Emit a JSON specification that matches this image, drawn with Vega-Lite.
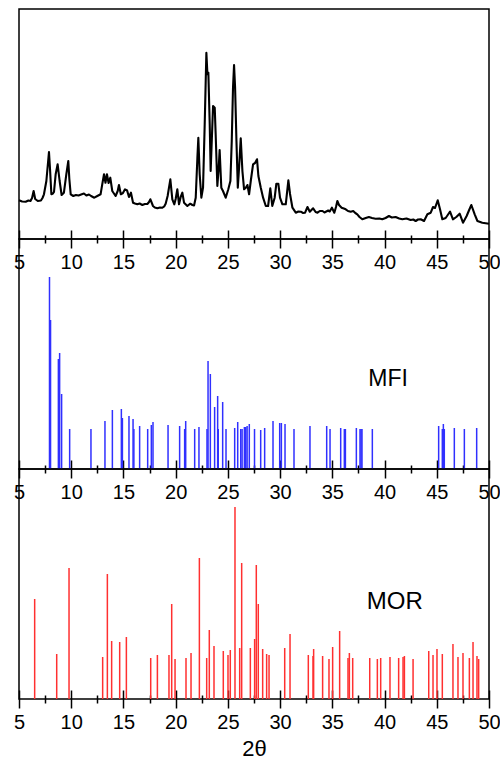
{
  "$schema": "https://vega.github.io/schema/vega-lite/v6.json",
  "padding": {"top": 8, "left": 12, "right": 0, "bottom": 0},
  "bounds": "flush",
  "spacing": 0,
  "datasets": {
    "xrd": [
      {"t":5.0,"i":38.7},{"t":5.3,"i":37.5},{"t":5.64,"i":37.3},{"t":5.9,"i":38.5},{"t":6.1,"i":38.0},{"t":6.25,"i":41},{"t":6.4,"i":48},{"t":6.55,"i":40},{"t":6.8,"i":38},{"t":7.1,"i":38.5},{"t":7.25,"i":41},{"t":7.39,"i":44.7},{"t":7.62,"i":58},{"t":7.87,"i":87},{"t":7.97,"i":70},{"t":8.1,"i":44.7},{"t":8.25,"i":45.5},{"t":8.35,"i":47},{"t":8.51,"i":64.7},{"t":8.7,"i":74.7},{"t":8.89,"i":58},{"t":9.08,"i":44},{"t":9.3,"i":46.3},{"t":9.53,"i":64.7},{"t":9.72,"i":78},{"t":9.82,"i":60},{"t":9.95,"i":44.7},{"t":10.2,"i":43},{"t":10.45,"i":44},{"t":10.7,"i":43.5},{"t":10.95,"i":44.5},{"t":11.22,"i":45.5},{"t":11.45,"i":43.5},{"t":11.7,"i":44.5},{"t":11.9,"i":43},{"t":12.21,"i":41.3},{"t":12.5,"i":43},{"t":12.81,"i":44.7},{"t":12.97,"i":54.7},{"t":13.14,"i":64.7},{"t":13.28,"i":56.3},{"t":13.42,"i":64.7},{"t":13.58,"i":56},{"t":13.74,"i":61.3},{"t":13.93,"i":48},{"t":14.25,"i":43},{"t":14.45,"i":48},{"t":14.57,"i":54},{"t":14.75,"i":44.7},{"t":14.95,"i":46},{"t":15.15,"i":49.7},{"t":15.35,"i":48.5},{"t":15.53,"i":42},{"t":15.72,"i":46.3},{"t":15.92,"i":36.3},{"t":16.1,"i":35.5},{"t":16.33,"i":34.7},{"t":16.55,"i":35.5},{"t":16.81,"i":34},{"t":17.05,"i":35},{"t":17.29,"i":35},{"t":17.45,"i":37},{"t":17.58,"i":39.7},{"t":17.83,"i":33},{"t":18.0,"i":31.5},{"t":18.25,"i":30.7},{"t":18.5,"i":31.5},{"t":18.73,"i":31.3},{"t":18.9,"i":32.5},{"t":19.04,"i":35.3},{"t":19.23,"i":43},{"t":19.49,"i":59.7},{"t":19.68,"i":39.7},{"t":19.87,"i":34.7},{"t":20.0,"i":40},{"t":20.16,"i":49.7},{"t":20.32,"i":34.7},{"t":20.48,"i":42},{"t":20.64,"i":46.3},{"t":20.8,"i":36.3},{"t":21.12,"i":33},{"t":21.4,"i":35.3},{"t":21.6,"i":34},{"t":21.76,"i":33.5},{"t":21.92,"i":41.3},{"t":22.08,"i":81.3},{"t":22.17,"i":101.3},{"t":22.3,"i":64.7},{"t":22.46,"i":41.3},{"t":22.62,"i":51.3},{"t":22.78,"i":114.7},{"t":22.94,"i":186.3},{"t":23.04,"i":164.7},{"t":23.13,"i":166.3},{"t":23.26,"i":114.7},{"t":23.35,"i":68},{"t":23.48,"i":104.7},{"t":23.58,"i":133},{"t":23.74,"i":131.3},{"t":23.83,"i":104.7},{"t":23.99,"i":53},{"t":24.12,"i":71},{"t":24.21,"i":89},{"t":24.37,"i":51.3},{"t":24.53,"i":48},{"t":24.79,"i":41.3},{"t":25.04,"i":49.7},{"t":25.24,"i":58},{"t":25.37,"i":98},{"t":25.49,"i":151.3},{"t":25.59,"i":174},{"t":25.69,"i":151.3},{"t":25.82,"i":98},{"t":25.95,"i":51.3},{"t":26.07,"i":71.3},{"t":26.23,"i":100.7},{"t":26.39,"i":68},{"t":26.55,"i":49.7},{"t":26.7,"i":51},{"t":26.87,"i":54},{"t":27.03,"i":44.7},{"t":27.19,"i":58},{"t":27.41,"i":74.7},{"t":27.6,"i":76},{"t":27.79,"i":79.7},{"t":27.92,"i":63},{"t":28.15,"i":51.3},{"t":28.37,"i":41.3},{"t":28.63,"i":33},{"t":28.85,"i":33},{"t":29.06,"i":50.7},{"t":29.25,"i":33},{"t":29.48,"i":41.3},{"t":29.64,"i":55.3},{"t":29.83,"i":55.3},{"t":29.99,"i":41.3},{"t":30.22,"i":34.7},{"t":30.54,"i":34.7},{"t":30.79,"i":58.7},{"t":30.95,"i":45},{"t":31.18,"i":31.3},{"t":31.5,"i":26.3},{"t":31.75,"i":27.5},{"t":31.98,"i":27.3},{"t":32.2,"i":26},{"t":32.39,"i":26.3},{"t":32.62,"i":32},{"t":32.84,"i":27.3},{"t":33.0,"i":29},{"t":33.16,"i":30.7},{"t":33.4,"i":27},{"t":33.58,"i":26.3},{"t":33.8,"i":28},{"t":34.06,"i":28},{"t":34.25,"i":26.5},{"t":34.38,"i":27.3},{"t":34.6,"i":28.5},{"t":34.75,"i":27.5},{"t":34.96,"i":31.3},{"t":35.19,"i":26.3},{"t":35.35,"i":32},{"t":35.48,"i":38},{"t":35.64,"i":34},{"t":35.89,"i":31.3},{"t":36.1,"i":30.5},{"t":36.28,"i":29.7},{"t":36.5,"i":28},{"t":36.76,"i":27.3},{"t":37.0,"i":28},{"t":37.2,"i":26},{"t":37.39,"i":24.7},{"t":37.6,"i":22},{"t":37.87,"i":19.7},{"t":38.2,"i":21},{"t":38.5,"i":22},{"t":38.8,"i":21},{"t":39.14,"i":20.3},{"t":39.5,"i":20.5},{"t":39.78,"i":19.7},{"t":40.1,"i":21},{"t":40.42,"i":23},{"t":40.7,"i":21.5},{"t":41.06,"i":22},{"t":41.4,"i":20.5},{"t":41.7,"i":19.7},{"t":42.1,"i":20.5},{"t":42.5,"i":19},{"t":42.75,"i":19.5},{"t":42.98,"i":18},{"t":43.2,"i":19.5},{"t":43.46,"i":19.7},{"t":43.78,"i":18},{"t":44.1,"i":24.7},{"t":44.42,"i":26.3},{"t":44.64,"i":32},{"t":44.83,"i":31},{"t":45.09,"i":38.7},{"t":45.31,"i":29.7},{"t":45.53,"i":19.7},{"t":45.85,"i":21},{"t":46.05,"i":24},{"t":46.27,"i":27.3},{"t":46.55,"i":19.7},{"t":46.87,"i":22},{"t":47.19,"i":25.3},{"t":47.51,"i":16.3},{"t":47.86,"i":23},{"t":48.1,"i":29},{"t":48.31,"i":34},{"t":48.63,"i":24.7},{"t":48.89,"i":18},{"t":49.36,"i":16.3},{"t":50.0,"i":15.3}
    ],
    "mfi": [
      {"t":7.92,"i":192},{"t":8.02,"i":149},{"t":8.77,"i":110},{"t":8.89,"i":116},{"t":9.08,"i":75},{"t":9.85,"i":40},{"t":11.89,"i":40},{"t":13.23,"i":48},{"t":13.94,"i":59},{"t":14.8,"i":60},{"t":14.9,"i":51},{"t":15.53,"i":53},{"t":15.92,"i":50},{"t":16.0,"i":40},{"t":16.55,"i":43},{"t":17.32,"i":40},{"t":17.67,"i":44},{"t":17.83,"i":47},{"t":19.27,"i":44},{"t":20.38,"i":43},{"t":20.86,"i":40},{"t":20.96,"i":48},{"t":21.82,"i":40},{"t":22.23,"i":42},{"t":23.0,"i":40},{"t":23.1,"i":108},{"t":23.32,"i":95},{"t":23.73,"i":62},{"t":24.02,"i":73},{"t":24.08,"i":40},{"t":24.5,"i":67},{"t":24.82,"i":40},{"t":25.65,"i":41},{"t":25.94,"i":47},{"t":26.23,"i":40},{"t":26.36,"i":40},{"t":26.58,"i":42},{"t":26.71,"i":42},{"t":26.84,"i":43},{"t":27.05,"i":45},{"t":27.55,"i":40},{"t":28.14,"i":39},{"t":28.52,"i":41},{"t":29.32,"i":48},{"t":29.96,"i":46},{"t":30.12,"i":46},{"t":30.47,"i":45},{"t":31.33,"i":40},{"t":32.86,"i":43},{"t":34.46,"i":43},{"t":34.78,"i":40},{"t":35.8,"i":41},{"t":36.15,"i":40},{"t":36.25,"i":40},{"t":37.3,"i":41},{"t":37.65,"i":40},{"t":37.75,"i":40},{"t":37.84,"i":40},{"t":38.83,"i":40},{"t":45.18,"i":43},{"t":45.53,"i":40},{"t":45.63,"i":45},{"t":45.72,"i":40},{"t":46.68,"i":41},{"t":47.64,"i":40},{"t":48.82,"i":41}
    ],
    "mor": [
      {"t":6.5,"i":100},{"t":8.61,"i":45},{"t":9.79,"i":131},{"t":13.01,"i":42},{"t":13.46,"i":125},{"t":13.87,"i":58},{"t":14.64,"i":57},{"t":15.28,"i":62},{"t":17.61,"i":41},{"t":18.25,"i":44},{"t":19.36,"i":44},{"t":19.62,"i":95},{"t":19.94,"i":40},{"t":20.99,"i":41},{"t":21.47,"i":46},{"t":22.27,"i":141},{"t":22.97,"i":41},{"t":23.22,"i":69},{"t":23.67,"i":53},{"t":24.56,"i":48},{"t":25.01,"i":44},{"t":25.23,"i":49},{"t":25.68,"i":192},{"t":26.13,"i":51},{"t":26.32,"i":136},{"t":27.15,"i":51},{"t":27.56,"i":60},{"t":27.72,"i":134},{"t":27.91,"i":95},{"t":28.33,"i":50},{"t":28.71,"i":45},{"t":28.94,"i":44},{"t":30.44,"i":51},{"t":30.95,"i":65},{"t":32.7,"i":44},{"t":33.15,"i":43},{"t":33.21,"i":50},{"t":34.07,"i":43},{"t":34.68,"i":40},{"t":35.03,"i":52},{"t":35.7,"i":68},{"t":36.5,"i":41},{"t":36.63,"i":46},{"t":36.95,"i":41},{"t":38.58,"i":41},{"t":39.31,"i":40},{"t":39.63,"i":41},{"t":40.52,"i":42},{"t":41.35,"i":41},{"t":41.77,"i":42},{"t":41.9,"i":43},{"t":42.73,"i":40},{"t":44.23,"i":48},{"t":44.64,"i":44},{"t":45.02,"i":50},{"t":45.53,"i":45},{"t":46.55,"i":55},{"t":47.03,"i":42},{"t":47.51,"i":46},{"t":48.12,"i":41},{"t":48.47,"i":57},{"t":48.85,"i":43},{"t":49.01,"i":40}
    ]
  },
  "vconcat": [
    {
      "width": 470, "height": 230,
      "layer": [
        {
          "data": {"name": "xrd"},
          "mark": {"type": "line", "color": "black", "strokeWidth": 2.1, "strokeJoin": "round"},
          "encoding": {
            "x": {"field": "t", "type": "quantitative", "scale": {"domain": [5, 50], "nice": false, "zero": false},
                  "axis": {"orient": "bottom", "values": [5,10,15,20,25,30,35,40,45,50], "offset": -9, "tickSize": 18, "labelPadding": 4, "title": null}},
            "y": {"field": "i", "type": "quantitative", "scale": {"domain": [0, 230], "nice": false}, "axis": null}
          }
        },
        {
          "data": {"name": "xrd"},
          "mark": {"type": "line", "strokeOpacity": 0},
          "encoding": {
            "x": {"field": "t", "type": "quantitative", "scale": {"domain": [5, 50], "nice": false, "zero": false},
                  "axis": {"orient": "bottom", "values": [7.5,12.5,17.5,22.5,27.5,32.5,37.5,42.5,47.5], "offset": -4, "tickSize": 8, "labels": false, "title": null}},
            "y": {"field": "i", "type": "quantitative", "scale": {"domain": [0, 230], "nice": false}, "axis": null}
          }
        }
      ],
      "resolve": {"axis": {"x": "independent"}}
    },
    {
      "width": 470, "height": 230,
      "layer": [
        {
          "data": {"name": "mfi"},
          "mark": {"type": "rule", "color": "#3030ff", "strokeWidth": 1.5},
          "encoding": {
            "x": {"field": "t", "type": "quantitative", "scale": {"domain": [5, 50], "nice": false, "zero": false},
                  "axis": {"orient": "bottom", "values": [5,10,15,20,25,30,35,40,45,50], "offset": -9, "tickSize": 18, "labelPadding": 4, "title": null}},
            "y": {"field": "i", "type": "quantitative", "scale": {"domain": [0, 230], "nice": false}, "axis": null},
            "y2": {"datum": 0}
          }
        },
        {
          "data": {"values": [{"t": 38.45, "i": 83, "label": "MFI"}]},
          "mark": {"type": "text", "align": "left", "baseline": "alphabetic", "fontSize": 23, "font": "Liberation Sans", "color": "black"},
          "encoding": {
            "x": {"field": "t", "type": "quantitative", "scale": {"domain": [5, 50], "nice": false, "zero": false},
                  "axis": {"orient": "bottom", "values": [7.5,12.5,17.5,22.5,27.5,32.5,37.5,42.5,47.5], "offset": -4, "tickSize": 8, "labels": false, "title": null}},
            "y": {"field": "i", "type": "quantitative", "scale": {"domain": [0, 230], "nice": false}, "axis": null},
            "text": {"field": "label"}
          }
        }
      ],
      "resolve": {"axis": {"x": "independent"}}
    },
    {
      "width": 470, "height": 230,
      "layer": [
        {
          "data": {"name": "mor"},
          "mark": {"type": "rule", "color": "#ff3030", "strokeWidth": 1.5},
          "encoding": {
            "x": {"field": "t", "type": "quantitative", "scale": {"domain": [5, 50], "nice": false, "zero": false},
                  "axis": {"orient": "bottom", "values": [5,10,15,20,25,30,35,40,45,50], "offset": -9, "tickSize": 18, "labelPadding": 4, "title": "2θ", "titleFontSize": 22, "titlePadding": 6}},
            "y": {"field": "i", "type": "quantitative", "scale": {"domain": [0, 230], "nice": false}, "axis": null},
            "y2": {"datum": 0}
          }
        },
        {
          "data": {"values": [{"t": 38.3, "i": 90, "label": "MOR"}]},
          "mark": {"type": "text", "align": "left", "baseline": "alphabetic", "fontSize": 24, "font": "Liberation Sans", "color": "black"},
          "encoding": {
            "x": {"field": "t", "type": "quantitative", "scale": {"domain": [5, 50], "nice": false, "zero": false},
                  "axis": {"orient": "bottom", "values": [7.5,12.5,17.5,22.5,27.5,32.5,37.5,42.5,47.5], "offset": -4, "tickSize": 8, "labels": false, "title": null}},
            "y": {"field": "i", "type": "quantitative", "scale": {"domain": [0, 230], "nice": false}, "axis": null},
            "text": {"field": "label"}
          }
        }
      ],
      "resolve": {"axis": {"x": "independent"}}
    }
  ],
  "config": {
    "view": {"stroke": "black", "strokeWidth": 1.5},
    "axis": {"labelFont": "Liberation Sans", "labelFontSize": 20, "labelColor": "black", "labelFlush": false, "labelOverlap": false, "tickColor": "black", "tickWidth": 1.5, "domain": false, "grid": false, "titleFont": "Liberation Sans", "titleFontWeight": "normal", "titleColor": "black"}
  }
}
